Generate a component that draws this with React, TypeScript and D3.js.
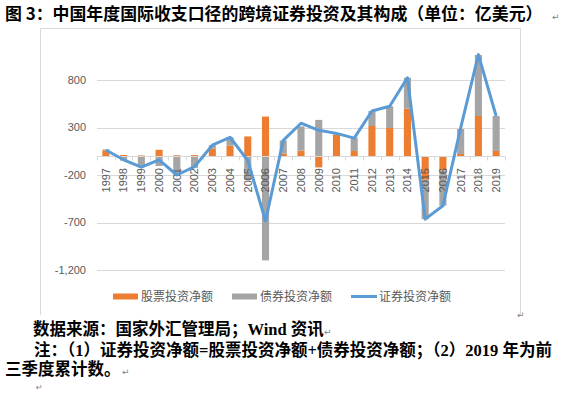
import React from 'react';
import { select, scaleBand, scaleLinear, stack, stackOffsetDiverging, line, format } from 'd3';

const years = ['1997', '1998', '1999', '2000', '2001', '2002', '2003', '2004', '2005', '2006', '2007', '2008',
  '2009', '2010', '2011', '2012', '2013', '2014', '2015', '2016', '2017', '2018', '2019'];
// 股票投资净额
const equity = [60, 10, 6, 65, 8, 10, 80, 108, 206, 415, 25, 56, -120, 225, 53, 316, 295, 500, -250, -150, 21, 421, 53];
// 债券投资净额
const bond = [9, -50, -118, -105, -202, -125, 34, 89, -253, -1099, 139, 255, 380, 15, 140, 158, 228, 324, -415, -373, 263, 642, 368];
// 证券投资净额
const net = [63, -40, -118, -40, -200, -112, 114, 197, -47, -684, 164, 345, 270, 238, 188, 474, 523, 824, -665, -523, 295, 1067, 421];
const yTicks = [-1200, -700, -200, 300, 800];
const seriesNames = ['股票投资净额', '债券投资净额', '证券投资净额'];

const colors = { equity: '#ed7d31', bond: '#a5a5a5', net: '#5b9bd5' };

const dims = {
  width: 562,
  height: 393,
  left: 97,
  right: 505,
  top: 42,
  bottom: 270,
};

const Chart: React.FC = () => {
  const svgRef = React.useRef<SVGSVGElement>(null);

  React.useEffect(() => {
    const svg = select(svgRef.current);
    svg.selectAll('*').remove();

    const x = scaleBand().domain(years).range([dims.left, dims.right]).paddingInner(0);
    const y = scaleLinear().domain([-1200, 1200]).range([dims.bottom, dims.top]);
    const barW = x.bandwidth() / 2.5;
    const fmt = (v: number) => format(',')(v).replace('\u2212', '-');

    // chart frame
    svg.append('path')
      .attr('d', 'M40.5,315 V28.5 H520.5 V315')
      .attr('fill', 'none')
      .attr('stroke', '#d9d9d9');

    // gridlines
    svg.append('g')
      .selectAll('line')
      .data(yTicks)
      .join('line')
      .attr('x1', dims.left)
      .attr('x2', dims.right)
      .attr('y1', d => Math.round(y(d)) + 0.5)
      .attr('y2', d => Math.round(y(d)) + 0.5)
      .attr('stroke', '#d9d9d9');

    svg.append('g')
      .selectAll('text')
      .data(yTicks)
      .join('text')
      .attr('x', 86)
      .attr('y', d => y(d))
      .attr('dy', '0.35em')
      .attr('text-anchor', 'end')
      .attr('font-family', 'Liberation Sans, Arial, sans-serif')
      .attr('font-size', 11)
      .attr('fill', '#595959')
      .text(d => fmt(d));

    // stacked bars
    const table = years.map((yr, i) => ({ year: yr, equity: equity[i], bond: bond[i] }));
    const stacked = stack<any>().keys(['equity', 'bond']).offset(stackOffsetDiverging)(table);
    svg.append('g')
      .selectAll('g')
      .data(stacked)
      .join('g')
      .attr('fill', d => colors[d.key as 'equity' | 'bond'])
      .selectAll('rect')
      .data(d => d)
      .join('rect')
      .attr('x', d => (x(d.data.year) as number) + (x.bandwidth() - barW) / 2)
      .attr('width', barW)
      .attr('y', d => y(Math.max(d[0], d[1])))
      .attr('height', d => Math.abs(y(d[0]) - y(d[1])));

    // zero axis
    const zeroY = Math.round(y(0)) + 0.5;
    svg.append('line')
      .attr('x1', dims.left)
      .attr('x2', dims.right)
      .attr('y1', zeroY)
      .attr('y2', zeroY)
      .attr('stroke', '#d9d9d9');
    svg.append('g')
      .selectAll('line')
      .data([...years.map(yr => x(yr) as number), dims.right])
      .join('line')
      .attr('x1', d => Math.round(d) + 0.5)
      .attr('x2', d => Math.round(d) + 0.5)
      .attr('y1', zeroY)
      .attr('y2', zeroY + 4)
      .attr('stroke', '#d9d9d9');

    // category labels
    svg.append('g')
      .selectAll('text')
      .data(years)
      .join('text')
      .attr('transform', d => `translate(${(x(d) as number) + x.bandwidth() / 2},${y(0) + 12}) rotate(-90)`)
      .attr('dy', '0.35em')
      .attr('text-anchor', 'end')
      .attr('font-family', 'Liberation Sans, Arial, sans-serif')
      .attr('font-size', 11)
      .attr('fill', '#595959')
      .text(d => d);

    // net line
    const netLine = line<number>()
      .x((_, i) => (x(years[i]) as number) + x.bandwidth() / 2)
      .y(d => y(d));
    svg.append('path')
      .datum(net)
      .attr('d', netLine)
      .attr('fill', 'none')
      .attr('stroke', colors.net)
      .attr('stroke-width', 3)
      .attr('stroke-linejoin', 'round');

    // legend
    const lg = svg.append('g').attr('font-family', 'Noto Sans CJK SC, sans-serif').attr('font-size', 12).attr('fill', '#595959');
    const legendX = [113, 232, 351];
    const ly = 296.5;
    lg.append('rect').attr('x', legendX[0]).attr('y', ly - 3).attr('width', 25).attr('height', 6).attr('fill', colors.equity);
    lg.append('rect').attr('x', legendX[1]).attr('y', ly - 3).attr('width', 25).attr('height', 6).attr('fill', colors.bond);
    lg.append('line').attr('x1', legendX[2]).attr('x2', legendX[2] + 26).attr('y1', ly).attr('y2', ly)
      .attr('stroke', colors.net).attr('stroke-width', 3);
    lg.selectAll('text')
      .data(seriesNames)
      .join('text')
      .attr('x', (_, i) => legendX[i] + 28)
      .attr('y', ly)
      .attr('dy', '0.36em')
      .text(d => d);
  }, []);

  return (
    <svg ref={svgRef} width={dims.width} height={dims.height}
      style={{ position: 'absolute', left: 0, top: 0, background: '#fff' }}>
    </svg>
  );
};

const App: React.FC = () => {
  const cjk = 'Liberation Serif, Noto Sans CJK SC, serif';
  const mark = { fontFamily: 'DejaVu Sans, sans-serif', fontSize: 9, fill: '#808080' };
  return (
    <div style={{ position: 'absolute', left: 0, top: 0, width: 562, height: 393, background: '#fff' }}>
      <Chart />
      <svg width={562} height={393} style={{ position: 'absolute', left: 0, top: 0 }}>
        <text x={5} y={20} fontFamily="Noto Sans CJK SC, sans-serif" fontWeight={700} fontSize={16.9} fill="#000">
          图 3：中国年度国际收支口径的跨境证券投资及其构成（单位：亿美元）
        </text>
        <text x={552} y={20} style={mark}>↵</text>
        <g fontFamily={cjk} fontWeight={700} fontSize={16.5} fill="#000">
          <text x={33} y={335}>数据来源：国家外汇管理局；Wind 资讯</text>
          <text x={34} y={356}>注：（1）证券投资净额=股票投资净额+债券投资净额；（2）2019 年为前</text>
          <text x={5} y={375}>三季度累计数。</text>
        </g>
        <text x={324} y={335} style={mark}>↵</text>
        <text x={122} y={375} style={mark}>↵</text>
        <text x={517} y={318} style={mark}>↵</text>
        <text x={36} y={390} style={{ ...mark, fontSize: 8 }}>↵</text>
      </svg>
    </div>
  );
};

export default App;
